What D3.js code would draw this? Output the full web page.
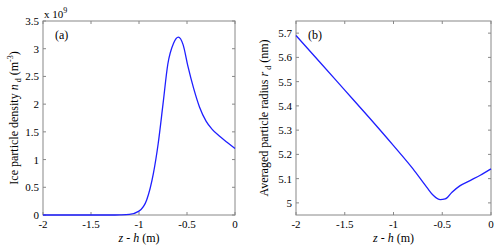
<!DOCTYPE html>
<html lang="en">
<head>
  <meta charset="UTF-8">
  <title>Ice particles</title>
  <style type="text/css" media="all">
    body { margin: 0; background: #fff; }
  </style>
</head>
<body>
  <div id="graph"></div>
  <script src="https://cdn.jsdelivr.net/npm/d3@7"></script>
  <script>
    // (a) density, units of 1e9 m^-3
    var densityZ = [-2, -1.6, -1.3, -1.2, -1.1, -1.0, -0.92, -0.85, -0.8, -0.75, -0.7, -0.64, -0.59, -0.54, -0.49, -0.43, -0.37, -0.3, -0.24, -0.16, -0.08, 0];
    var densityN = [0, 0, 0, 0.003, 0.012, 0.07, 0.27, 0.75, 1.29, 2.0, 2.72, 3.1, 3.21, 3.07, 2.68, 2.28, 1.95, 1.69, 1.55, 1.42, 1.31, 1.2];

    // (b) averaged radius in nm
    var radiusZ = [-2, -1.75, -1.5, -1.25, -1.0, -0.8, -0.66, -0.59, -0.52, -0.47, -0.4, -0.32, -0.21, -0.11, 0];
    var radiusR = [5.69, 5.578, 5.465, 5.352, 5.236, 5.14, 5.065, 5.03, 5.013, 5.016, 5.044, 5.07, 5.093, 5.114, 5.14];

    var xTicks = [-2, -1.5, -1, -0.5, 0];
    var densityTicks = [0, 0.5, 1, 1.5, 2, 2.5, 3, 3.5];
    var radiusTicks = [5, 5.1, 5.2, 5.3, 5.4, 5.5, 5.6, 5.7];

    var serif = "'Liberation Serif', 'Times New Roman', 'DejaVu Serif', serif";

    var svg = d3.select("#graph").append("svg")
        .attr("width", 500)
        .attr("height", 248)
        .style("font-family", serif);

    function panel(opts) {
      var x = d3.scaleLinear().domain([-2, 0]).range([opts.left, opts.right]);
      var y = d3.scaleLinear().domain(opts.yDomain).range([215, 21]);
      var g = svg.append("g");

      // box
      g.append("rect")
        .attr("x", opts.left).attr("y", 21)
        .attr("width", opts.right - opts.left).attr("height", 194)
        .attr("fill", "none").attr("stroke", "#888").attr("stroke-width", 1);

      // ticks inward on all sides
      var tl = 3;
      xTicks.forEach(function(t) {
        g.append("line").attr("x1", x(t)).attr("x2", x(t)).attr("y1", 215).attr("y2", 215 - tl).attr("stroke", "#888");
        g.append("line").attr("x1", x(t)).attr("x2", x(t)).attr("y1", 21).attr("y2", 21 + tl).attr("stroke", "#888");
        g.append("text").attr("x", x(t)).attr("y", 228)
          .attr("text-anchor", "middle").attr("font-size", 11)
          .text(t);
      });
      opts.yTicks.forEach(function(t) {
        g.append("line").attr("x1", opts.left).attr("x2", opts.left + tl).attr("y1", y(t)).attr("y2", y(t)).attr("stroke", "#888");
        g.append("line").attr("x1", opts.right).attr("x2", opts.right - tl).attr("y1", y(t)).attr("y2", y(t)).attr("stroke", "#888");
        g.append("text").attr("x", opts.left - 4).attr("y", y(t) + 4)
          .attr("text-anchor", "end").attr("font-size", 11)
          .text(t);
      });

      var line = d3.line()
        .x(function(d) { return x(d[0]); })
        .y(function(d) { return y(d[1]); })
        .curve(d3.curveMonotoneX);

      g.append("path")
        .datum(d3.zip(opts.xs, opts.ys))
        .attr("d", line)
        .attr("fill", "none")
        .attr("stroke", "#1f1fff")
        .attr("stroke-width", 1.3);

      // x label
      var xl = g.append("text")
        .attr("x", (opts.left + opts.right) / 2).attr("y", 242)
        .attr("text-anchor", "middle").attr("font-size", 12);
      xl.append("tspan").attr("font-style", "italic").text("z");
      xl.append("tspan").text(" - ");
      xl.append("tspan").attr("font-style", "italic").text("h");
      xl.append("tspan").text(" (m)");

      // y label
      var yl = g.append("text")
        .attr("transform", "translate(" + opts.yLabelX + ",118) rotate(-90)")
        .attr("text-anchor", "middle").attr("font-size", 12);
      yl.append("tspan").text(opts.yLabel + " ");
      yl.append("tspan").attr("font-style", "italic").text(opts.sym);
      yl.append("tspan").attr("font-size", 8).attr("dy", 3).text(" d");
      yl.append("tspan").attr("dy", -3).text(" (" + opts.unit);
      if (opts.sup) {
        yl.append("tspan").attr("font-size", 8).attr("dy", -5).text(opts.sup);
        yl.append("tspan").attr("dy", 5).text(")");
      } else {
        yl.append("tspan").text(")");
      }

      g.append("text")
        .attr("x", opts.left + 12).attr("y", 39)
        .attr("font-size", 12)
        .text(opts.tag);

      return g;
    }

    var a = panel({
      left: 43, right: 235,
      yDomain: [0, 3.5], yTicks: densityTicks,
      xs: densityZ, ys: densityN,
      yLabelX: 18, yLabel: "Ice particle density", sym: "n", unit: "m", sup: "-3",
      tag: "(a)"
    });

    var mult = a.append("text").attr("x", 44).attr("y", 18).attr("font-size", 11);
    mult.append("tspan").text("x 10");
    mult.append("tspan").attr("font-size", 8).attr("dy", -5).text("9");

    panel({
      left: 296, right: 491,
      yDomain: [4.95, 5.75], yTicks: radiusTicks,
      xs: radiusZ, ys: radiusR,
      yLabelX: 268, yLabel: "Averaged particle radius", sym: "r", unit: "nm", sup: null,
      tag: "(b)"
    });
  </script>
</body>
</html>
